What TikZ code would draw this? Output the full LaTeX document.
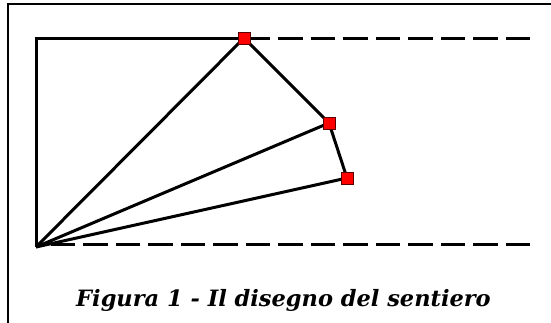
\documentclass[tikz,border=0pt]{standalone}
\usepackage{fontspec}
\newfontfamily\didafont{DejaVu Serif}
\usepackage{tikz}
\usetikzlibrary{arrows.meta, positioning, calc}
\usepackage{xcolor}
\definecolor{rosso}{RGB}{255,0,0}
\definecolor{bordo}{RGB}{90,0,0}

\begin{document}
\begin{tikzpicture}[x=1pt, y=-1pt, line width=3pt,
		punto/.style={rectangle, fill=rosso, draw=bordo, line width=0.7pt, minimum size=12pt, inner sep=0pt},
		tratteggio/.style={dash pattern=on 24.5pt off 8pt}]
					\useasboundingbox (0,0) rectangle (551,322);
					\clip (0,0) rectangle (551,322);
					% cornice
					\draw[line width=2pt] (8,340) |- (570,4);
					% punti del sentiero
					\coordinate (angolo) at (36,38);
					\coordinate (origine) at (36,247);
					\coordinate (pA) at (244,38);
					\coordinate (pB) at (329,123);
					\coordinate (pC) at (347,178);
					\coordinate (fineA) at (530,38);
					\coordinate (fineO) at (530,244);
					% bordi del sentiero, tratteggiati a destra
					\draw[tratteggio] (fineA) -- (pA);
					\draw[tratteggio] (fineO) -- (origine |- fineO);
					\draw[line join=miter] (pA) -- (angolo) -- (origine);
					% il disegno
					\draw[line join=round] (origine) -- (pA) -- (pB) -- (pC) -- (origine);
					\draw (origine) -- (pB);
					\node[punto] (A) at (pA) {};
					\node[punto] (B) at (pB) {};
					\node[punto] (C) at (pC) {};
					\node[font=\didafont\fontsize{22.5}{27}\selectfont\bfseries\itshape, anchor=base] (didascalia) at (283.5,306)
					{Figura 1 - Il disegno del sentiero};
				\end{tikzpicture}
\end{document}
